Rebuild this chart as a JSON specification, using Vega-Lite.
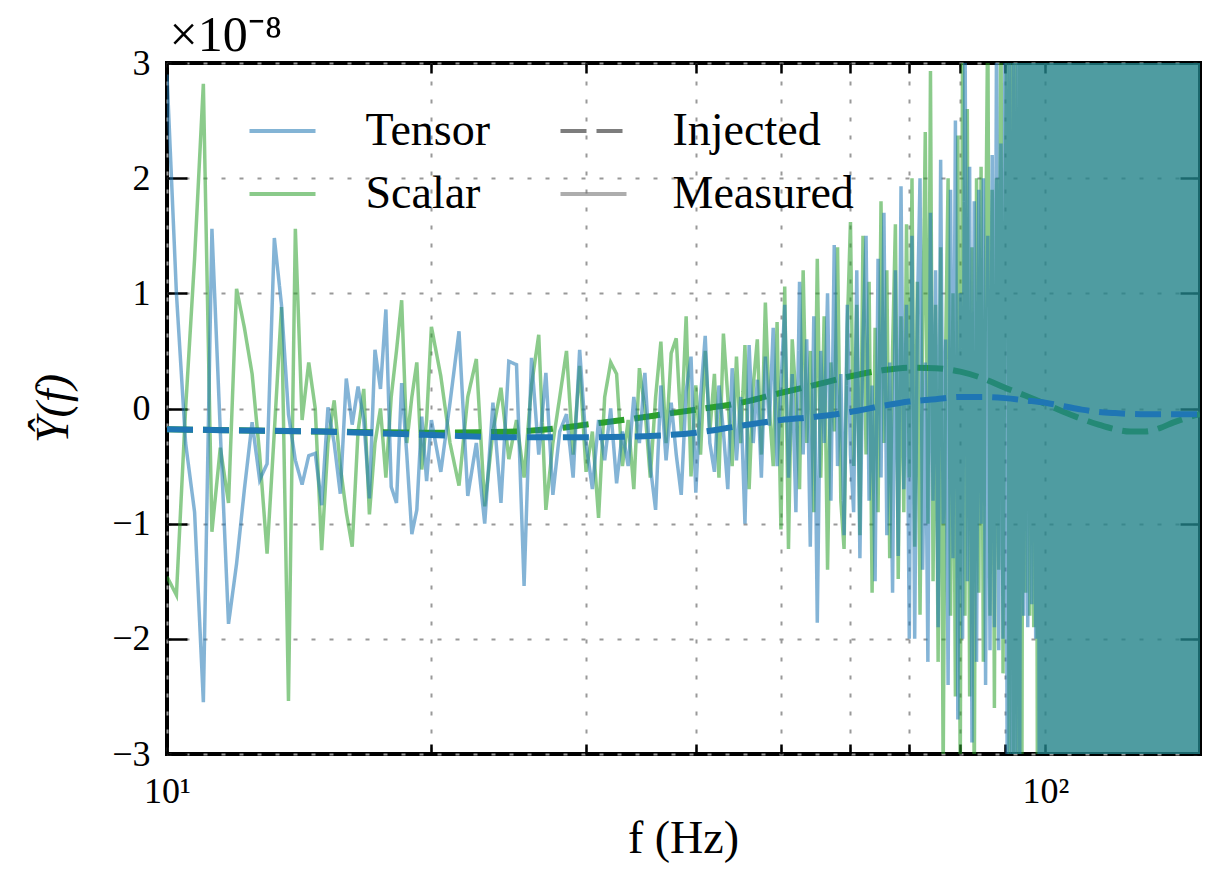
{
 "$schema": "https://vega.github.io/schema/vega-lite/v6.json",
 "width": 1033,
 "height": 691,
 "autosize": {"type": "none"},
 "padding": {"left": 167, "top": 63, "right": 19, "bottom": 120},
 "background": "white",
 "config": {
  "view": {"stroke": "black", "strokeWidth": 4},
  "font": "Liberation Serif",
  "axis": {"domain": false, "grid": true, "gridColor": "#999999", "gridDash": [4, 14], "gridWidth": 2, "tickColor": "black", "tickWidth": 2.5, "labelFont": "Liberation Serif", "labelFontSize": 36, "labelColor": "black", "titleFont": "Liberation Serif", "titleFontSize": 46, "titleFontWeight": "normal", "titleColor": "black", "labelFlush": false, "labelOverlap": false},
  "legend": {"title": null, "orient": "none", "padding": 0, "direction": "vertical", "symbolType": "M-2.2,0H2.2", "symbolSize": 900, "symbolStrokeWidth": 4, "labelFont": "Liberation Serif", "labelFontSize": 46, "labelColor": "black", "labelLimit": 400, "rowPadding": 17}
 },
 "datasets": {
  "ts": [
   {"f":10,"v":2.9},{"f":10.25,"v":1.0},{"f":10.5,"v":-0.3},{"f":10.75,"v":-0.9},{"f":11,"v":-2.55},{"f":11.25,"v":1.56},{"f":11.5,"v":-0.2},{"f":11.75,"v":-1.87},{"f":12,"v":-1.35},{"f":12.25,"v":-0.7},
   {"f":12.5,"v":-0.12},{"f":12.75,"v":-0.62},{"f":13,"v":-0.48},{"f":13.25,"v":1.48},{"f":13.5,"v":0.9},{"f":13.75,"v":-0.05},{"f":14,"v":-0.45},{"f":14.25,"v":-0.66},{"f":14.5,"v":-0.41},{"f":14.75,"v":-0.39},
   {"f":15,"v":-0.84},{"f":15.25,"v":0.01},{"f":15.5,"v":-0.3},{"f":15.75,"v":-0.74},{"f":16,"v":0.26},{"f":16.25,"v":-0.14},{"f":16.5,"v":0.19},{"f":16.75,"v":-0.1},{"f":17,"v":-0.78},{"f":17.25,"v":0.51},
   {"f":17.5,"v":0.17},{"f":17.75,"v":0.86},{"f":18,"v":-0.68},{"f":18.25,"v":-0.82},{"f":18.5,"v":0.22},{"f":18.75,"v":-0.4},{"f":19,"v":-1.09},{"f":19.25,"v":-0.88},{"f":19.5,"v":-0.07},{"f":19.75,"v":-0.63},
   {"f":20,"v":-0.1},{"f":20.5,"v":-0.55},{"f":21,"v":0.05},{"f":21.5,"v":0.67},{"f":22,"v":-0.76},{"f":22.5,"v":-0.3},{"f":23,"v":-1.0},{"f":23.5,"v":0.05},{"f":24,"v":-0.82},{"f":24.5,"v":0.41},
   {"f":25,"v":0.38},{"f":25.5,"v":-1.54},{"f":26,"v":0.44},{"f":26.5,"v":-0.4},{"f":27,"v":0.31},{"f":27.5,"v":-0.75},{"f":28,"v":-0.2},{"f":28.5,"v":-0.05},{"f":29,"v":-0.6},{"f":29.5,"v":0.51},
   {"f":30,"v":-0.3},{"f":30.5,"v":-0.7},{"f":31,"v":-0.1},{"f":31.5,"v":-0.45},{"f":32,"v":0.0},{"f":32.5,"v":-0.65},{"f":33,"v":-0.2},{"f":33.5,"v":-0.5},{"f":34,"v":0.1},{"f":34.5,"v":-0.3},
   {"f":35,"v":0.31},{"f":35.5,"v":-0.5},{"f":36,"v":-0.88},{"f":36.5,"v":0.2},{"f":37,"v":-0.45},{"f":37.5,"v":0.05},{"f":38,"v":-0.4},{"f":38.5,"v":-0.75},{"f":39,"v":0.15},{"f":39.5,"v":0.45},
   {"f":40,"v":-0.73},{"f":40.5,"v":0.1},{"f":41,"v":0.63},{"f":41.5,"v":-0.3},{"f":42,"v":-0.55},{"f":42.5,"v":0.2},{"f":43,"v":-0.2},{"f":43.5,"v":-0.7},{"f":44,"v":0.35},{"f":44.5,"v":-0.45},
   {"f":45,"v":0.1},{"f":45.5,"v":-1.0},{"f":46,"v":0.55},{"f":46.5,"v":-0.3},{"f":47,"v":0.25},{"f":47.5,"v":-0.6},{"f":48,"v":0.45},{"f":48.5,"v":-0.15},{"f":49,"v":0.7},{"f":49.5,"v":-0.5},
   {"f":50,"v":0.2},{"f":50.5,"v":0.9},{"f":51,"v":-0.6},{"f":51.5,"v":0.3},{"f":52,"v":-0.9},{"f":52.5,"v":1.1},{"f":53,"v":-0.4},{"f":53.5,"v":0.6},{"f":54,"v":-1.2},{"f":54.5,"v":0.8},
   {"f":55,"v":-1.86},{"f":55.5,"v":0.5},{"f":56,"v":-0.3},{"f":56.5,"v":1.0},{"f":57,"v":-0.8},{"f":57.5,"v":1.42},{"f":58,"v":-0.5},{"f":58.5,"v":0.3},{"f":59,"v":-1.1},{"f":59.5,"v":0.9},
   {"f":60,"v":-0.4},{"f":60.5,"v":-0.9},{"f":61,"v":1.2},{"f":61.5,"v":-1.3},{"f":62,"v":0.6},{"f":62.5,"v":1.5},{"f":63,"v":-0.8},{"f":63.5,"v":0.2},{"f":64,"v":-1.5},{"f":64.5,"v":1.3},
   {"f":65,"v":-0.6},{"f":65.5,"v":1.7},{"f":66,"v":-1.1},{"f":66.5,"v":0.4},{"f":67,"v":-1.6},{"f":67.5,"v":1.2},{"f":68,"v":-1.28},{"f":68.5,"v":1.93},{"f":69,"v":-0.7},{"f":69.5,"v":0.9},
   {"f":70,"v":-2.0},{"f":70.5,"v":1.5},{"f":71,"v":-2.0},{"f":71.5,"v":0.8},{"f":72,"v":2.0},{"f":72.5,"v":-1.4},{"f":73,"v":0.4},{"f":73.5,"v":-2.2},{"f":74,"v":1.7},{"f":74.5,"v":-0.8},
   {"f":75,"v":1.2},{"f":75.5,"v":-1.9},{"f":76,"v":2.16},{"f":76.5,"v":-1.0},{"f":77,"v":0.6},{"f":77.5,"v":-2.4},{"f":78,"v":1.9},{"f":78.5,"v":-1.3},{"f":79,"v":2.5},{"f":79.5,"v":-2.7},
   {"f":80,"v":1.0},{"f":80.5,"v":-2.0},{"f":81,"v":3.5},{"f":81.5,"v":-1.5},{"f":82,"v":2.1},{"f":82.5,"v":-2.9},{"f":83,"v":1.8},{"f":83.5,"v":-2.2},{"f":84,"v":1.9},{"f":84.5,"v":-1.0},
   {"f":85,"v":2.0},{"f":85.5,"v":-2.4},{"f":86,"v":1.5},{"f":86.5,"v":-2.1},{"f":87,"v":2.2},{"f":87.5,"v":-1.9},{"f":88,"v":3.4},{"f":88.5,"v":-2.1},{"f":89,"v":2.3},{"f":89.5,"v":-2.0},
   {"f":90,"v":3.8},{"f":90.5,"v":-3.5},{"f":91,"v":4.2},{"f":91.5,"v":-3.8},{"f":92,"v":3.0},{"f":92.5,"v":-4.5},{"f":93,"v":4.8},{"f":93.5,"v":-3.2},{"f":94,"v":4.0},{"f":94.5,"v":-1.8},
   {"f":95,"v":4.5},{"f":95.5,"v":-1.9},{"f":96,"v":5.0},{"f":96.5,"v":-1.7},{"f":97,"v":4.6},{"f":97.5,"v":-2.0},{"f":98,"v":3.9},{"f":98.5,"v":-4.8},{"f":99,"v":5.2},{"f":99.5,"v":-5.0},
   {"f":100,"v":4.8},{"f":100.5,"v":-6.1},{"f":101,"v":5.4},{"f":101.5,"v":-4.2},{"f":102,"v":7.3},{"f":102.5,"v":-5.6},{"f":103,"v":4.8},{"f":103.5,"v":-7.9},{"f":104,"v":6.2},{"f":104.5,"v":-3.9},
   {"f":105,"v":5.7},{"f":105.5,"v":-6.8},{"f":106,"v":4.1},{"f":106.5,"v":-5.2},{"f":107,"v":8.1},{"f":107.5,"v":-4.6},{"f":108,"v":6.6},{"f":108.5,"v":-7.2},{"f":109,"v":3.8},{"f":109.5,"v":-6.3},
   {"f":110,"v":5.1},{"f":110.5,"v":-4.4},{"f":111,"v":7.6},{"f":111.5,"v":-5.9},{"f":112,"v":4.3},{"f":112.5,"v":-8.2},{"f":113,"v":6.9},{"f":113.5,"v":-3.7},{"f":114,"v":5.5},{"f":114.5,"v":-6.6},
   {"f":115,"v":4.7},{"f":115.5,"v":-5.3},{"f":116,"v":7.1},{"f":116.5,"v":-4.1},{"f":117,"v":6.4},{"f":117.5,"v":-7.5},{"f":118,"v":3.6},{"f":118.5,"v":-5.8},{"f":119,"v":8.4},{"f":119.5,"v":-4.9},
   {"f":120,"v":5.9},{"f":120.5,"v":-6.2},{"f":121,"v":4.5},{"f":121.5,"v":-7.7},{"f":122,"v":6.1},{"f":122.5,"v":-3.8},{"f":123,"v":5.2},{"f":123.5,"v":-6.9},{"f":124,"v":7.4},{"f":124.5,"v":-4.3},
   {"f":125,"v":4.9},{"f":125.5,"v":-5.7},{"f":126,"v":6.7},{"f":126.5,"v":-4.7},{"f":127,"v":8.2},{"f":127.5,"v":-6.4},{"f":128,"v":3.9},{"f":128.5,"v":-7.1},{"f":129,"v":5.6},{"f":129.5,"v":-5.1},
   {"f":130,"v":6.3},{"f":130.5,"v":-4.5},{"f":131,"v":7.8},{"f":131.5,"v":-6.7},{"f":132,"v":4.4},{"f":132.5,"v":-5.5},{"f":133,"v":6.8},{"f":133.5,"v":-3.6},{"f":134,"v":5.3},{"f":134.5,"v":-7.4},
   {"f":135,"v":4.6},{"f":135.5,"v":-6.5},{"f":136,"v":7.2},{"f":136.5,"v":-4.8},{"f":137,"v":5.8},{"f":137.5,"v":-8.1},{"f":138,"v":4.2},{"f":138.5,"v":-5.4},{"f":139,"v":6.5},{"f":139.5,"v":-7.3},
   {"f":140,"v":3.7},{"f":140.5,"v":-6.1},{"f":141,"v":8.3},{"f":141.5,"v":-4.6},{"f":142,"v":5.4},{"f":142.5,"v":-6.8},{"f":143,"v":4.8},{"f":143.5,"v":-5.9},{"f":144,"v":7.5},{"f":144.5,"v":-4.2},
   {"f":145,"v":6.2},{"f":145.5,"v":-7.6},{"f":146,"v":5.1},{"f":146.5,"v":-4.4},{"f":147,"v":6.9},{"f":147.5,"v":-5.6},{"f":148,"v":4.7},{"f":148.5,"v":-7.2},{"f":149,"v":5.7},{"f":149.5,"v":-6.3},
   {"f":150,"v":4.5}
  ],
  "ss": [
   {"f":10,"v":-1.46},{"f":10.25,"v":-1.62},{"f":10.5,"v":0.0},{"f":10.75,"v":1.3},{"f":11,"v":2.82},{"f":11.25,"v":-1.07},{"f":11.5,"v":-0.34},{"f":11.75,"v":-0.82},{"f":12,"v":1.04},{"f":12.25,"v":0.7},
   {"f":12.5,"v":0.3},{"f":12.75,"v":-0.4},{"f":13,"v":-1.26},{"f":13.25,"v":-0.2},{"f":13.5,"v":0.88},{"f":13.75,"v":-2.54},{"f":14,"v":1.56},{"f":14.25,"v":-0.1},{"f":14.5,"v":0.4},{"f":14.75,"v":0.0},
   {"f":15,"v":-1.23},{"f":15.25,"v":-0.3},{"f":15.5,"v":0.07},{"f":15.75,"v":-0.5},{"f":16,"v":-0.9},{"f":16.25,"v":-1.2},{"f":16.5,"v":-0.2},{"f":16.75,"v":0.17},{"f":17,"v":-0.92},{"f":17.25,"v":-0.3},
   {"f":17.5,"v":0.0},{"f":17.75,"v":-0.6},{"f":18,"v":0.1},{"f":18.25,"v":0.5},{"f":18.5,"v":0.94},{"f":18.75,"v":-0.3},{"f":19,"v":0.1},{"f":19.25,"v":0.4},{"f":19.5,"v":-0.53},{"f":19.75,"v":-0.1},
   {"f":20,"v":0.71},{"f":20.5,"v":0.28},{"f":21,"v":-0.3},{"f":21.5,"v":-0.67},{"f":22,"v":0.1},{"f":22.5,"v":0.43},{"f":23,"v":-0.85},{"f":23.5,"v":-0.2},{"f":24,"v":0.18},{"f":24.5,"v":-0.44},
   {"f":25,"v":-0.1},{"f":25.5,"v":-0.6},{"f":26,"v":0.2},{"f":26.5,"v":0.64},{"f":27,"v":-0.88},{"f":27.5,"v":-0.3},{"f":28,"v":0.1},{"f":28.5,"v":0.5},{"f":29,"v":-0.4},{"f":29.5,"v":0.37},
   {"f":30,"v":-0.55},{"f":30.5,"v":-0.2},{"f":31,"v":-0.95},{"f":31.5,"v":0.1},{"f":32,"v":0.4},{"f":32.5,"v":0.3},{"f":33,"v":-0.5},{"f":33.5,"v":-0.1},{"f":34,"v":-0.7},{"f":34.5,"v":0.35},
   {"f":35,"v":0.0},{"f":35.5,"v":-0.6},{"f":36,"v":0.1},{"f":36.5,"v":0.58},{"f":37,"v":-0.3},{"f":37.5,"v":0.48},{"f":38,"v":0.61},{"f":38.5,"v":-0.2},{"f":39,"v":0.8},{"f":39.5,"v":-0.59},
   {"f":40,"v":0.2},{"f":40.5,"v":-0.4},{"f":41,"v":0.5},{"f":41.5,"v":-0.2},{"f":42,"v":0.3},{"f":42.5,"v":-0.6},{"f":43,"v":0.65},{"f":43.5,"v":0.1},{"f":44,"v":-0.5},{"f":44.5,"v":0.45},
   {"f":45,"v":-0.3},{"f":45.5,"v":0.55},{"f":46,"v":-0.7},{"f":46.5,"v":0.2},{"f":47,"v":0.6},{"f":47.5,"v":-0.4},{"f":48,"v":0.92},{"f":48.5,"v":0.0},{"f":49,"v":-0.5},{"f":49.5,"v":0.75},
   {"f":50,"v":-1.05},{"f":50.5,"v":1.06},{"f":51,"v":-1.22},{"f":51.5,"v":0.6},{"f":52,"v":0.1},{"f":52.5,"v":-0.7},{"f":53,"v":1.2},{"f":53.5,"v":-0.3},{"f":54,"v":0.5},{"f":54.5,"v":-0.9},
   {"f":55,"v":1.3},{"f":55.5,"v":-0.6},{"f":56,"v":0.8},{"f":56.5,"v":-1.4},{"f":57,"v":0.4},{"f":57.5,"v":-0.2},{"f":58,"v":1.4},{"f":58.5,"v":-0.8},{"f":59,"v":-1.22},{"f":59.5,"v":0.7},
   {"f":60,"v":1.62},{"f":60.5,"v":-0.5},{"f":61,"v":0.9},{"f":61.5,"v":-1.1},{"f":62,"v":1.5},{"f":62.5,"v":-0.4},{"f":63,"v":1.1},{"f":63.5,"v":-1.6},{"f":64,"v":0.7},{"f":64.5,"v":-0.9},
   {"f":65,"v":1.8},{"f":65.5,"v":-0.3},{"f":66,"v":1.2},{"f":66.5,"v":-1.3},{"f":67,"v":0.5},{"f":67.5,"v":1.6},{"f":68,"v":-1.48},{"f":68.5,"v":0.8},{"f":69,"v":-0.9},{"f":69.5,"v":1.6},
   {"f":70,"v":-0.6},{"f":70.5,"v":2.0},{"f":71,"v":-1.2},{"f":71.5,"v":1.1},{"f":72,"v":-1.79},{"f":72.5,"v":0.6},{"f":73,"v":2.4},{"f":73.5,"v":-1.0},{"f":74,"v":2.93},{"f":74.5,"v":-1.5},
   {"f":75,"v":0.9},{"f":75.5,"v":-2.2},{"f":76,"v":1.4},{"f":76.5,"v":-3.2},{"f":77,"v":0.5},{"f":77.5,"v":2.0},{"f":78,"v":-1.8},{"f":78.5,"v":1.0},{"f":79,"v":-2.5},{"f":79.5,"v":2.37},
   {"f":80,"v":-3.3},{"f":80.5,"v":3.3},{"f":81,"v":-1.8},{"f":81.5,"v":2.6},{"f":82,"v":-2.5},{"f":82.5,"v":1.4},{"f":83,"v":-3.4},{"f":83.5,"v":2.0},{"f":84,"v":-1.6},{"f":84.5,"v":2.1},
   {"f":85,"v":-2.2},{"f":85.5,"v":1.2},{"f":86,"v":3.5},{"f":86.5,"v":-1.8},{"f":87,"v":1.9},{"f":87.5,"v":-2.6},{"f":88,"v":2.0},{"f":88.5,"v":-1.4},{"f":89,"v":3.8},{"f":89.5,"v":-2.3},
   {"f":90,"v":1.6},{"f":90.5,"v":3.9},{"f":91,"v":-4.1},{"f":91.5,"v":4.4},{"f":92,"v":-3.0},{"f":92.5,"v":3.5},{"f":93,"v":-4.6},{"f":93.5,"v":4.1},{"f":94,"v":-3.9},{"f":94.5,"v":4.3},
   {"f":95,"v":-1.6},{"f":95.5,"v":5.1},{"f":96,"v":-1.8},{"f":96.5,"v":4.2},{"f":97,"v":-1.9},{"f":97.5,"v":4.7},{"f":98,"v":-4.5},{"f":98.5,"v":3.6},{"f":99,"v":-5.3},{"f":99.5,"v":5.5},
   {"f":100,"v":-4.9},{"f":100.5,"v":5.8},{"f":101,"v":-4.9},{"f":101.5,"v":6.7},{"f":102,"v":-5.3},{"f":102.5,"v":4.4},{"f":103,"v":-7.6},{"f":103.5,"v":5.1},{"f":104,"v":-4.7},{"f":104.5,"v":8.0},
   {"f":105,"v":-6.2},{"f":105.5,"v":4.6},{"f":106,"v":-5.8},{"f":106.5,"v":7.2},{"f":107,"v":-3.9},{"f":107.5,"v":6.3},{"f":108,"v":-5.1},{"f":108.5,"v":4.2},{"f":109,"v":-7.4},{"f":109.5,"v":5.5},
   {"f":110,"v":-6.6},{"f":110.5,"v":7.9},{"f":111,"v":-4.3},{"f":111.5,"v":5.2},{"f":112,"v":-6.9},{"f":112.5,"v":3.8},{"f":113,"v":-5.7},{"f":113.5,"v":6.8},{"f":114,"v":-4.4},{"f":114.5,"v":5.9},
   {"f":115,"v":-7.1},{"f":115.5,"v":4.3},{"f":116,"v":-6.2},{"f":116.5,"v":7.7},{"f":117,"v":-5.4},{"f":117.5,"v":4.9},{"f":118,"v":-6.5},{"f":118.5,"v":5.6},{"f":119,"v":-3.7},{"f":119.5,"v":7.3},
   {"f":120,"v":-4.8},{"f":120.5,"v":5.3},{"f":121,"v":-7.8},{"f":121.5,"v":4.1},{"f":122,"v":-5.9},{"f":122.5,"v":6.6},{"f":123,"v":-4.5},{"f":123.5,"v":5.7},{"f":124,"v":-6.3},{"f":124.5,"v":8.2},
   {"f":125,"v":-4.2},{"f":125.5,"v":6.1},{"f":126,"v":-5.5},{"f":126.5,"v":7.4},{"f":127,"v":-3.8},{"f":127.5,"v":5.0},{"f":128,"v":-6.8},{"f":128.5,"v":4.7},{"f":129,"v":-7.2},{"f":129.5,"v":6.4},
   {"f":130,"v":-5.2},{"f":130.5,"v":7.1},{"f":131,"v":-4.6},{"f":131.5,"v":5.8},{"f":132,"v":-6.1},{"f":132.5,"v":3.9},{"f":133,"v":-7.5},{"f":133.5,"v":6.2},{"f":134,"v":-4.9},{"f":134.5,"v":5.4},
   {"f":135,"v":-6.7},{"f":135.5,"v":4.5},{"f":136,"v":-5.6},{"f":136.5,"v":7.6},{"f":137,"v":-4.1},{"f":137.5,"v":6.0},{"f":138,"v":-7.9},{"f":138.5,"v":5.1},{"f":139,"v":-4.4},{"f":139.5,"v":6.9},
   {"f":140,"v":-5.3},{"f":140.5,"v":4.8},{"f":141,"v":-6.4},{"f":141.5,"v":7.0},{"f":142,"v":-5.0},{"f":142.5,"v":4.3},{"f":143,"v":-6.0},{"f":143.5,"v":8.1},{"f":144,"v":-4.7},{"f":144.5,"v":5.5},
   {"f":145,"v":-7.0},{"f":145.5,"v":6.5},{"f":146,"v":-4.3},{"f":146.5,"v":5.9},{"f":147,"v":-6.6},{"f":147.5,"v":4.0},{"f":148,"v":-5.4},{"f":148.5,"v":7.3},{"f":149,"v":-4.8},{"f":149.5,"v":6.2},
   {"f":150,"v":-5.7}
  ],
  "ti": [
   {"f":10,"v":-0.18},{"f":12,"v":-0.19},{"f":15,"v":-0.2},{"f":18,"v":-0.22},{"f":20,"v":-0.23},{"f":25,"v":-0.25},{"f":30,"v":-0.25},{"f":35,"v":-0.24},{"f":40,"v":-0.21},{"f":45,"v":-0.15},
   {"f":50,"v":-0.1},{"f":55,"v":-0.07},{"f":60,"v":-0.03},{"f":65,"v":0.02},{"f":70,"v":0.06},{"f":75,"v":0.08},{"f":80,"v":0.1},{"f":85,"v":0.1},{"f":90,"v":0.09},{"f":95,"v":0.07},
   {"f":100,"v":0.05},{"f":105,"v":0.02},{"f":110,"v":-0.01},{"f":115,"v":-0.03},{"f":120,"v":-0.04},{"f":130,"v":-0.05},{"f":140,"v":-0.05},{"f":150,"v":-0.05}
  ],
  "si": [
   {"f":10,"v":-0.18},{"f":15,"v":-0.2},{"f":20,"v":-0.21},{"f":25,"v":-0.2},{"f":28,"v":-0.17},{"f":30,"v":-0.14},{"f":33,"v":-0.1},{"f":36,"v":-0.06},{"f":40,"v":-0.01},{"f":45,"v":0.05},
   {"f":49,"v":0.12},{"f":55,"v":0.21},{"f":60,"v":0.28},{"f":65,"v":0.33},{"f":70,"v":0.355},{"f":75,"v":0.35},{"f":80,"v":0.32},{"f":85,"v":0.26},{"f":90,"v":0.18},{"f":95,"v":0.11},
   {"f":100,"v":0.04},{"f":105,"v":-0.03},{"f":110,"v":-0.09},{"f":115,"v":-0.14},{"f":120,"v":-0.18},{"f":125,"v":-0.2},{"f":130,"v":-0.2},{"f":135,"v":-0.17},{"f":140,"v":-0.12},{"f":145,"v":-0.08},
   {"f":150,"v":-0.05}
  ]
 },
 "resolve": {"axis": {"x": "independent", "y": "independent"}},
 "layer": [
  {
   "data": {"name": "ss"},
   "mark": {"type": "line", "clip": true, "strokeWidth": 3.5, "opacity": 0.55},
   "encoding": {
    "x": {"field": "f", "type": "quantitative", "scale": {"type": "log", "domain": [10, 150], "nice": false},
     "axis": {"values": [10, 20, 30, 40, 50, 60, 70, 80, 90, 100], "labelExpr": "datum.value == 10 ? '10¹' : datum.value == 100 ? '10²' : ''", "tickSize": -10, "labelPadding": 30, "title": "f (Hz)", "titleX": 516, "titleY": 98, "titleBaseline": "alphabetic", "titleAnchor": "middle", "titleAlign": "center"}},
    "y": {"field": "v", "type": "quantitative", "scale": {"domain": [-3, 3], "nice": false, "zero": false},
     "axis": {"values": [-3, -2, -1, 0, 1, 2, 3], "tickSize": -20, "labelPadding": 37, "title": "Ŷ(f)", "titleFontStyle": "italic", "titleX": -100, "titleY": 345, "titleAngle": -90, "titleBaseline": "alphabetic", "titleAlign": "center"}},
    "color": {"datum": "Scalar", "type": "nominal", "scale": {"domain": ["Tensor", "Scalar"], "range": ["#1f77b4", "#2ca02c"]},
     "legend": {"legendX": 92.5, "legendY": 45, "symbolOpacity": 0.55, "labelOffset": 60}},
    "strokeDash": {"datum": "Measured", "type": "nominal", "scale": {"domain": ["Injected", "Measured"], "range": [[26, 10], [1, 0]]},
     "legend": {"legendX": 403.5, "legendY": 45, "labelOffset": 56, "symbolStrokeColor": "#777777",
      "encode": {"symbols": {"update": {"stroke": {"value": "#777777"}, "opacity": {"signal": "datum.value === 'Measured' ? 0.6 : 0.95"}}}}}}
   }
  },
  {
   "data": {"name": "si"},
   "mark": {"type": "line", "clip": true, "strokeWidth": 6, "interpolate": "monotone"},
   "encoding": {
    "x": {"field": "f", "type": "quantitative", "axis": {"orient": "top", "values": [10, 20, 30, 40, 50, 60, 70, 80, 90, 100], "labels": false, "grid": false, "tickSize": -10, "title": "×10⁻⁸", "titleFontSize": 50, "titleX": 2, "titleY": -13, "titleAlign": "left", "titleAnchor": "start", "titleBaseline": "alphabetic"}},
    "y": {"field": "v", "type": "quantitative", "axis": {"orient": "right", "values": [-3, -2, -1, 0, 1, 2, 3], "labels": false, "grid": false, "tickSize": -20, "title": null}},
    "color": {"datum": "Scalar", "type": "nominal"},
    "strokeDash": {"datum": "Injected", "type": "nominal",
     "legend": {"legendX": 403.5, "legendY": 45, "labelOffset": 56, "symbolStrokeColor": "#777777",
      "encode": {"symbols": {"update": {"stroke": {"value": "#777777"}, "opacity": {"signal": "datum.value === 'Measured' ? 0.6 : 0.95"}}}}}}
   }
  },
  {
   "data": {"name": "ti"},
   "mark": {"type": "line", "clip": true, "strokeWidth": 6, "interpolate": "monotone"},
   "encoding": {
    "x": {"field": "f", "type": "quantitative", "axis": null},
    "y": {"field": "v", "type": "quantitative", "axis": null},
    "color": {"datum": "Tensor", "type": "nominal"},
    "strokeDash": {"datum": "Injected", "type": "nominal",
     "legend": {"legendX": 403.5, "legendY": 45, "labelOffset": 56, "symbolStrokeColor": "#777777",
      "encode": {"symbols": {"update": {"stroke": {"value": "#777777"}, "opacity": {"signal": "datum.value === 'Measured' ? 0.6 : 0.95"}}}}}}
   }
  },
  {
   "data": {"name": "ts"},
   "mark": {"type": "line", "clip": true, "strokeWidth": 3.5, "opacity": 0.55},
   "encoding": {
    "x": {"field": "f", "type": "quantitative", "axis": null},
    "y": {"field": "v", "type": "quantitative", "axis": null},
    "color": {"datum": "Tensor", "type": "nominal"},
    "strokeDash": {"datum": "Measured", "type": "nominal",
     "legend": {"legendX": 403.5, "legendY": 45, "labelOffset": 56, "symbolStrokeColor": "#777777",
      "encode": {"symbols": {"update": {"stroke": {"value": "#777777"}, "opacity": {"signal": "datum.value === 'Measured' ? 0.6 : 0.95"}}}}}}
   }
  }
 ]
}
